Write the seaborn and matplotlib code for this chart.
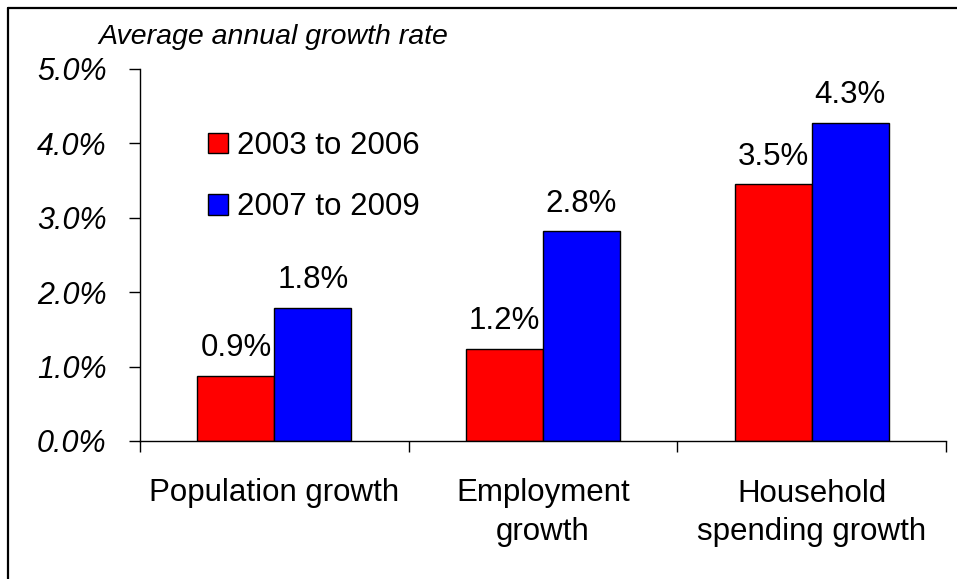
import matplotlib
matplotlib.use("Agg")
import matplotlib.pyplot as plt
from matplotlib.lines import Line2D
import seaborn as sns
import pandas as pd

# Data
categories = ["Population growth", "Employment\ngrowth", "Household\nspending growth"]
periods = ["2003 to 2006", "2007 to 2009"]
rate_2003_2006 = [0.88, 1.24, 3.45]
rate_2007_2009 = [1.79, 2.82, 4.28]
y_ticks = [0, 1, 2, 3, 4, 5]
colors = ["#FF0000", "#0000FF"]

df = pd.DataFrame({
    "category": categories * 2,
    "period": [periods[0]] * 3 + [periods[1]] * 3,
    "value": rate_2003_2006 + rate_2007_2009,
})

sns.set_theme(style="white")
plt.rcParams["font.family"] = ["Liberation Sans", "DejaVu Sans"]
plt.rcParams["text.color"] = "black"
plt.rcParams["xtick.color"] = "black"
plt.rcParams["ytick.color"] = "black"
plt.rcParams["xtick.labelcolor"] = "black"
plt.rcParams["ytick.labelcolor"] = "black"

W, H = 957, 579
fig = plt.figure(figsize=(W / 100, H / 100), dpi=100)
ax = fig.add_axes([140 / W, 1 - 441 / H, (946 - 140) / W, (441 - 69) / H])

sns.barplot(data=df, x="category", y="value", hue="period", order=categories,
            hue_order=periods, palette=colors, saturation=1, width=0.572, gap=0,
            edgecolor="black", linewidth=1, ax=ax)

ax.set_ylim(0, 5)
ax.set_xlim(-0.5, 2.5)
ax.set_xlabel("")
ax.set_ylabel("")

# Y axis
ax.set_yticks(y_ticks)
ax.set_yticklabels([f"{t:.1f}%" for t in y_ticks], fontsize=22, style="italic")
ax.tick_params(axis="y", direction="out", length=8, width=1, color="black",
               pad=16, left=True)

# X axis: boundary ticks, labels centered in each category
ax.set_xticks([-0.5, 0.5, 1.5, 2.5])
ax.set_xticklabels([])
ax.set_xticks([0, 1, 2], minor=True)
ax.set_xticklabels(categories, minor=True, fontsize=22.5, linespacing=1.37)
ax.tick_params(axis="x", which="major", direction="out", length=8, width=1,
               color="black", bottom=True)
ax.tick_params(axis="x", which="minor", length=0, pad=27)

for side in ["top", "right"]:
    ax.spines[side].set_visible(False)
for side in ["left", "bottom"]:
    ax.spines[side].set_color("black")
    ax.spines[side].set_linewidth(1)

# Value labels
for cont, vals in zip(ax.containers, [rate_2003_2006, rate_2007_2009]):
    ax.bar_label(cont, labels=[f"{v:.1f}%" for v in vals], padding=9, fontsize=22.5,
                 color="black")

# Legend
handles, labels = ax.get_legend_handles_labels()
leg = ax.legend(handles, labels, loc="upper left",
                bbox_to_anchor=(208 / W, 1 - 131 / H),
                bbox_transform=fig.transFigure, frameon=False, fontsize=22.5,
                handlelength=0.64, handleheight=0.64, handletextpad=0.29,
                labelspacing=1.0, borderpad=0, borderaxespad=0)
for t in leg.get_texts():
    t.set_color("black")

# Axis caption
fig.text(98 / W, 1 - 44 / H, "Average annual growth rate", fontsize=20.5,
         style="italic", ha="left", va="baseline", color="black")

# Frame around the figure (top and left edges)
fig.add_artist(Line2D([8 / W, 1], [1 - 8 / H, 1 - 8 / H], transform=fig.transFigure,
                      color="black", lw=1.6))
fig.add_artist(Line2D([8 / W, 8 / W], [0, 1 - 8 / H], transform=fig.transFigure,
                      color="black", lw=1.6))

fig.savefig("out.png", dpi=100)
